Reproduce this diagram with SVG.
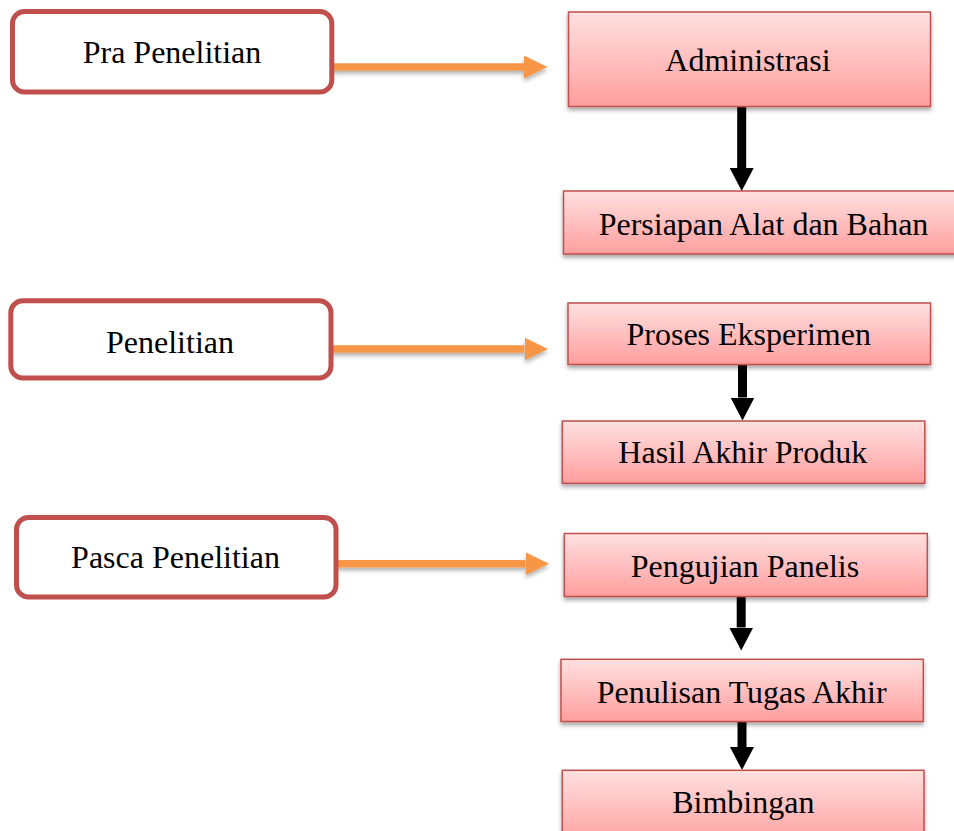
<svg xmlns="http://www.w3.org/2000/svg" width="954" height="831" viewBox="0 0 954 831">
<style>
.phase{fill:#ffffff;stroke:#C0504D;stroke-width:5}
.step{fill:url(#redGrad);stroke:#C0504D;stroke-width:1.5;filter:url(#shadow)}
text{font-family:"Liberation Serif","Times New Roman",serif;font-size:32px;fill:#000;text-anchor:middle}
.orange{stroke:#F79646;stroke-width:7.5;fill:none;marker-end:url(#headO)}
.black{stroke:#000;stroke-width:9;fill:none;marker-end:url(#headB)}
</style>
<defs>
<linearGradient id="redGrad" x1="0" y1="0" x2="0" y2="1">
<stop offset="0" stop-color="#FFE0E0"/>
<stop offset="1" stop-color="#FF9E9E"/>
</linearGradient>
<filter id="shadow" x="-10%" y="-20%" width="120%" height="150%">
<feDropShadow dx="0" dy="3" stdDeviation="2" flood-color="#000" flood-opacity="0.35"/>
</filter>
<filter id="shadowA" filterUnits="userSpaceOnUse" x="0" y="0" width="954" height="831">
<feDropShadow dx="0" dy="3" stdDeviation="2" flood-color="#000" flood-opacity="0.3"/>
</filter>
<marker id="headO" markerUnits="userSpaceOnUse" markerWidth="24" markerHeight="24" refX="0" refY="11.5" orient="auto">
<path d="M0,0 L23.5,11.5 L0,23 Z" fill="#F79646"/>
</marker>
<marker id="headB" markerUnits="userSpaceOnUse" markerWidth="24" markerHeight="24" refX="0" refY="12" orient="auto">
<path d="M0,0 L23,12 L0,24 Z" fill="#000"/>
</marker>
</defs>

<g id="connectors">
<g filter="url(#shadowA)">
<line class="orange" x1="331" y1="67" x2="524" y2="67"/>
<line class="orange" x1="331" y1="349" x2="524.5" y2="349"/>
<line class="orange" x1="336" y1="563.7" x2="525.5" y2="563.7"/>
</g>
<line class="black" x1="741.7" y1="106" x2="741.7" y2="168"/>
<line class="black" x1="742.5" y1="364" x2="742.5" y2="397.5"/>
<line class="black" x1="741.2" y1="596" x2="741.2" y2="627.5"/>
<line class="black" x1="742" y1="721" x2="742" y2="747"/>
</g>

<g id="pra-penelitian">
<rect class="phase" x="12.5" y="11.5" width="319.3" height="80.5" rx="12"/>
<text x="172" y="63.3">Pra Penelitian</text>
</g>
<g id="penelitian">
<rect class="phase" x="10.8" y="300.8" width="320.2" height="77.2" rx="12"/>
<text x="170" y="352.7">Penelitian</text>
</g>
<g id="pasca-penelitian">
<rect class="phase" x="16.5" y="517.5" width="319.5" height="79.5" rx="12"/>
<text x="175.5" y="568.3">Pasca Penelitian</text>
</g>

<g id="administrasi">
<rect class="step" x="568.5" y="12" width="362" height="94.5"/>
<text x="748" y="71">Administrasi</text>
</g>
<g id="persiapan">
<rect class="step" x="563.5" y="191" width="400" height="63"/>
<text x="763.5" y="235">Persiapan Alat dan Bahan</text>
</g>
<g id="proses-eksperimen">
<rect class="step" x="568" y="303" width="362.5" height="61.5"/>
<text x="748.7" y="345">Proses Eksperimen</text>
</g>
<g id="hasil-akhir-produk">
<rect class="step" x="562.3" y="421" width="362.5" height="62.3"/>
<text x="742.8" y="463.3">Hasil Akhir Produk</text>
</g>
<g id="pengujian-panelis">
<rect class="step" x="564.3" y="533.5" width="363" height="63"/>
<text x="745" y="576.7">Pengujian Panelis</text>
</g>
<g id="penulisan-tugas-akhir">
<rect class="step" x="561" y="659.3" width="362.3" height="62.2"/>
<text x="741.7" y="702.7">Penulisan Tugas Akhir</text>
</g>
<g id="bimbingan">
<rect class="step" x="562.3" y="770.3" width="361.7" height="75"/>
<text x="743.3" y="812.7">Bimbingan</text>
</g>
</svg>
